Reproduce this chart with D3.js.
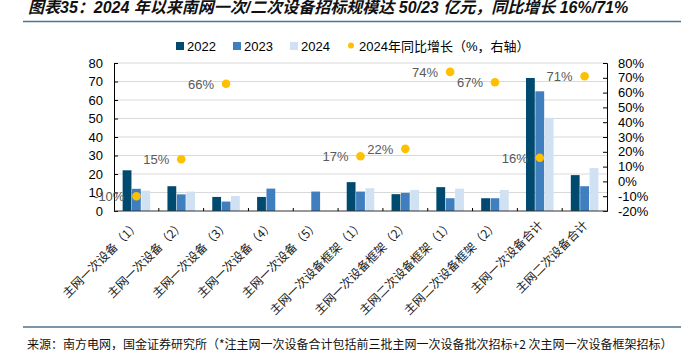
<!DOCTYPE html>
<html>
<head>
<meta charset="utf-8">
<script src="https://cdn.jsdelivr.net/npm/d3@7"></script>
<style>
  html, body { margin: 0; padding: 0; background: #fff; }
  svg { display: block; }
  text { font-family: "Liberation Sans", Arial, "Noto Sans CJK SC", sans-serif; }
</style>
</head>
<body>
<svg id="chart" width="681" height="360"></svg>
<script>
const categories = ["主网一次设备（1）","主网一次设备（2）","主网一次设备（3）","主网一次设备（4）","主网一次设备（5）","主网一次设备框架（1）","主网一次设备框架（2）","主网二次设备框架（1）","主网二次设备框架（2）","主网一次设备合计","主网二次设备合计"];
const seriesNames = ["2022","2023","2024"];
const values2022 = [22, 13.4, 7.6, 7.6, null, 15.6, 9.1, 12.9, 6.9, 71.9, 19.4];
const values2023 = [12, 9, 5.1, 12.1, 10.5, 10.5, 9.8, 6.9, 6.9, 64.7, 13.4];
const values2024 = [11, 10.5, 8.1, null, null, 12.3, 11.4, 12.1, 11.4, 50.4, 23.2];
const growth2024 = [-10, 15, 66, null, null, 17, 22, 74, 67, 16, 71];
const leftTicks = [0,10,20,30,40,50,60,70,80];
const rightTicks = [-20,-10,0,10,20,30,40,50,60,70,80];
const legendLabels = ["2022","2023","2024","2024年同比增长（%，右轴）"];
const titleText = "图表35：2024 年以来南网一次/二次设备招标规模达 50/23 亿元，同比增长 16%/71%";
const sourceText = "来源：南方电网，国金证券研究所（*注主网一次设备合计包括前三批主网一次设备批次招标+2 次主网一次设备框架招标）";

const colors = ["#004a70", "#3f7fbf", "#cfe1f3"];
const dotColor = "#ffc000";

const svg = d3.select("#chart");
const L = 114, R = 607, T = 63, B = 211;

// title
svg.append("text").attr("x", 28).attr("y", 13)
  .attr("font-size", 16).attr("font-weight", "bold").attr("font-style", "italic")
  .attr("fill", "#111").text(titleText);
svg.append("line").attr("x1", 23).attr("x2", 681).attr("y1", 21.5).attr("y2", 21.5)
  .attr("stroke", "#4a7392").attr("stroke-width", 1.6);

// bottom source
svg.append("line").attr("x1", 23).attr("x2", 681).attr("y1", 327).attr("y2", 327)
  .attr("stroke", "#4a7392").attr("stroke-width", 1.6);
svg.append("text").attr("x", 27).attr("y", 349)
  .attr("font-size", 12).attr("fill", "#111")
  .style("font-family", "'Noto Sans CJK SC', sans-serif").text(sourceText);

// scales
const x0 = d3.scaleBand().domain(categories).range([L, R]).paddingInner(0.36).paddingOuter(0.18);
const x1 = d3.scaleBand().domain(seriesNames).range([0, x0.bandwidth()]).padding(0.06);
const yL = d3.scaleLinear().domain([0, 80]).range([B, T]);
const yR = d3.scaleLinear().domain([-20, 80]).range([B, T]);
const xStep = d3.scaleLinear().domain([0, categories.length]).range([L, R]);

// gridlines
svg.append("g").selectAll("line").data(leftTicks.filter(d => d > 0)).join("line")
  .attr("x1", L).attr("x2", R).attr("y1", d => yL(d)).attr("y2", d => yL(d))
  .attr("stroke", "#d9d9d9").attr("stroke-width", 1);

// bars
const seriesVals = [values2022, values2023, values2024];
seriesNames.forEach((s, si) => {
  svg.append("g").selectAll("rect")
    .data(categories.map((c, i) => ({c, v: seriesVals[si][i]})).filter(d => d.v != null))
    .join("rect")
    .attr("x", d => x0(d.c) + x1(s))
    .attr("width", x1.bandwidth())
    .attr("y", d => yL(d.v))
    .attr("height", d => yL(0) - yL(d.v))
    .attr("fill", colors[si]);
});

// axes
const axL = d3.axisLeft(yL).tickValues(leftTicks).tickSize(-4).tickPadding(11);
const gL = svg.append("g").attr("transform", `translate(${L},0)`).call(axL);
gL.select(".domain").attr("stroke", "#000");
gL.selectAll(".tick line").attr("stroke", "#000");
gL.selectAll("text").attr("font-size", 13).attr("fill", "#000")
  .style("font-family", "'Liberation Sans', Arial, sans-serif");

const axR = d3.axisRight(yR).tickValues(rightTicks).tickSize(-4).tickPadding(11).tickFormat(d => d + "%");
const gR = svg.append("g").attr("transform", `translate(${R},0)`).call(axR);
gR.select(".domain").attr("stroke", "#000");
gR.selectAll(".tick line").attr("stroke", "#000");
gR.selectAll("text").attr("font-size", 13).attr("fill", "#000")
  .style("font-family", "'Liberation Sans', Arial, sans-serif");

// bottom axis line + boundary ticks
svg.append("line").attr("x1", L).attr("x2", R).attr("y1", B).attr("y2", B)
  .attr("stroke", "#333").attr("stroke-width", 1.2);
svg.append("g").selectAll("line").data(d3.range(1, categories.length)).join("line")
  .attr("x1", d => xStep(d)).attr("x2", d => xStep(d))
  .attr("y1", B).attr("y2", B - 3).attr("stroke", "#000");

// x labels
svg.append("g").selectAll("text").data(categories).join("text")
  .attr("transform", d => `translate(${x0(d) + x0.bandwidth() / 2 + 1},${B + 12}) rotate(-45)`)
  .attr("text-anchor", "end").attr("dy", "0.35em")
  .attr("font-size", 12).attr("fill", "#222")
  .style("font-family", "'Noto Sans CJK SC', sans-serif")
  .text(d => d);

// dots + labels
const dotData = categories.map((c, i) => ({c, v: growth2024[i]})).filter(d => d.v != null);
svg.append("g").selectAll("circle").data(dotData).join("circle")
  .attr("cx", d => x0(d.c) + x0.bandwidth() / 2)
  .attr("cy", d => yR(d.v)).attr("r", 4.3).attr("fill", dotColor);
svg.append("g").selectAll("text").data(dotData).join("text")
  .attr("x", d => x0(d.c) + x0.bandwidth() / 2 - 12)
  .attr("y", d => yR(d.v) + 5)
  .attr("text-anchor", "end").attr("font-size", 13).attr("fill", "#595959")
  .text(d => d.v + "%");

// legend
const lg = svg.append("g");
const legX = [176, 233, 290];
seriesNames.forEach((s, i) => {
  lg.append("rect").attr("x", legX[i]).attr("y", 42).attr("width", 8).attr("height", 8).attr("fill", colors[i]);
  lg.append("text").attr("x", legX[i] + 11).attr("y", 50.5).attr("font-size", 13).attr("fill", "#000").text(legendLabels[i]);
});
lg.append("circle").attr("cx", 351).attr("cy", 45.5).attr("r", 3).attr("fill", dotColor);
lg.append("text").attr("x", 359).attr("y", 50.5).attr("font-size", 13).attr("fill", "#000").text(legendLabels[3]);
</script>
</body>
</html>
